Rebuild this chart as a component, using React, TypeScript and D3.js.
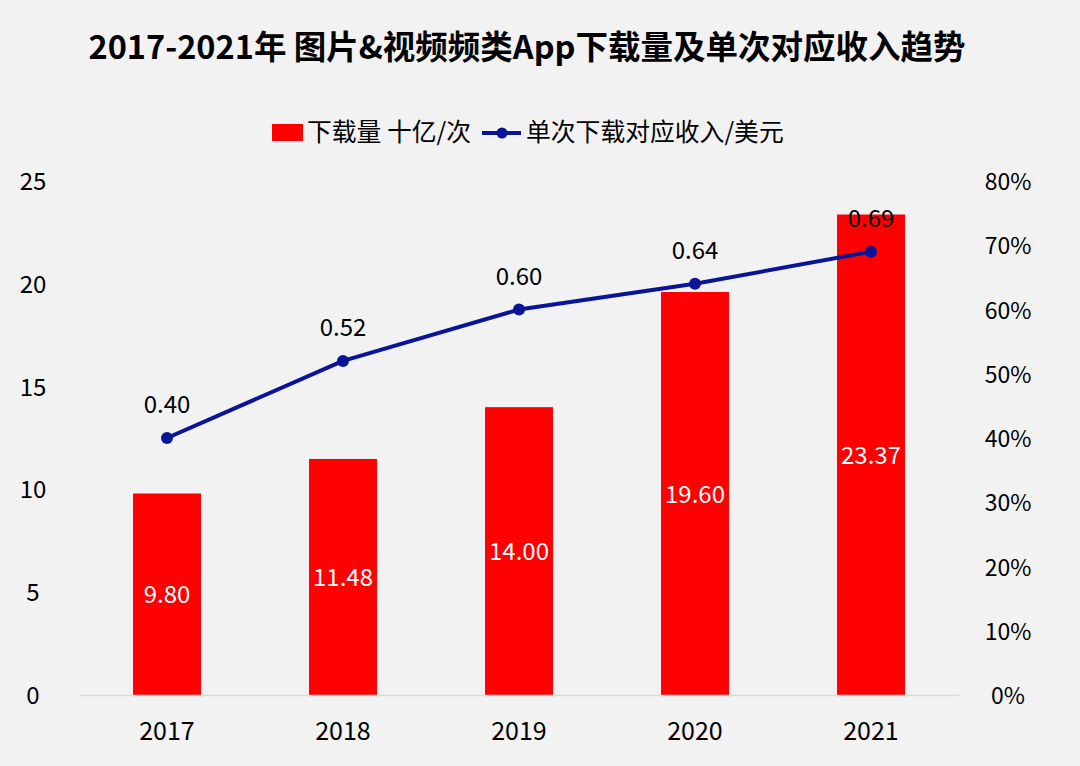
import React from "react";
import * as d3 from "d3";

const years = ["2017", "2018", "2019", "2020", "2021"];
const downloads = [9.8, 11.48, 14.0, 19.6, 23.37];
const revenue = [0.4, 0.52, 0.6, 0.64, 0.69];
const leftTicks = [0, 5, 10, 15, 20, 25];
const rightTicks = [0, 0.1, 0.2, 0.3, 0.4, 0.5, 0.6, 0.7, 0.8];
const title = "2017-2021年 图片&视频频类App下载量及单次对应收入趋势";
const legendBar = "下载量 十亿/次";
const legendLine = "单次下载对应收入/美元";

const W = 1080, H = 766;
const FONT = "'Noto Sans CJK SC', 'Noto Sans', sans-serif";
const RED = "#ff0000";
const NAVY = "#0a1496";

export default function App() {
  const x = d3.scaleBand<string>().domain(years).range([79, 959]).paddingInner(0.614).paddingOuter(0.307);
  const yL = d3.scaleLinear().domain([0, 25]).range([695, 181]);
  const yR = d3.scaleLinear().domain([0, 0.8]).range([695, 181]);
  const cx = (d: string) => (x(d) as number) + x.bandwidth() / 2;
  const line = d3.line<number>().x((_, i) => cx(years[i])).y((d) => yR(d));

  return (
    <svg width={W} height={H} style={{ position: "absolute", left: 0, top: 0, display: "block" }} fontFamily={FONT}>
      <rect x={0} y={0} width={W} height={H} fill="#f2f2f2" />
      <text x={527} y={59} textAnchor="middle" fontSize={32.5} fontWeight="bold" fill="#000">{title}</text>

      {/* legend */}
      <rect x={272} y={124} width={31} height={17} fill={RED} />
      <text x={307} y={141} fontSize={24.8} fill="#000">{legendBar}</text>
      <line x1={482} x2={521} y1={133} y2={133} stroke={NAVY} strokeWidth={4} />
      <circle cx={502} cy={133} r={5.5} fill={NAVY} />
      <text x={526} y={141} fontSize={24.8} fill="#000">{legendLine}</text>

      {/* left axis ticks */}
      {leftTicks.map((t) => (
        <text key={"l" + t} x={33} y={yL(t) + 9} textAnchor="middle" fontSize={24} fill="#000">{t}</text>
      ))}
      {rightTicks.map((t) => (
        <text key={"r" + t} x={1008} y={yR(t) + 9} textAnchor="middle" fontSize={23} fill="#000">{d3.format(".0%")(t)}</text>
      ))}

      {/* bars */}
      {downloads.map((v, i) => (
        <g key={"b" + i}>
          <rect x={x(years[i])} y={yL(v)} width={x.bandwidth()} height={yL(0) - yL(v)} fill={RED} />
          <text x={cx(years[i])} y={(yL(v) + yL(0)) / 2 + 9} textAnchor="middle" fontSize={24} fill="#fff">{v.toFixed(2)}</text>
        </g>
      ))}

      {/* axis line */}
      <line x1={79} x2={959} y1={695.5} y2={695.5} stroke="#d9d9d9" strokeWidth={1.5} />
      {years.map((y) => (
        <text key={"x" + y} x={cx(y)} y={740} textAnchor="middle" fontSize={25} fill="#000">{y}</text>
      ))}

      {/* line */}
      <path d={line(revenue) || ""} fill="none" stroke={NAVY} strokeWidth={4} strokeLinejoin="round" />
      {revenue.map((v, i) => (
        <g key={"p" + i}>
          <circle cx={cx(years[i])} cy={yR(v)} r={6} fill={NAVY} />
          <text x={cx(years[i])} y={yR(v) - 25} textAnchor="middle" fontSize={24} fill="#000">{v.toFixed(2)}</text>
        </g>
      ))}
    </svg>
  );
}
